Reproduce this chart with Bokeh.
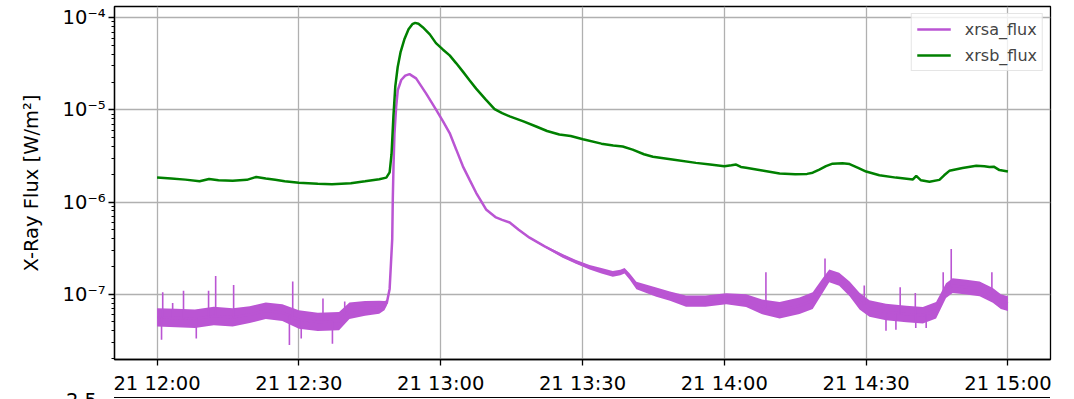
import numpy as np
import pandas as pd
from bokeh.plotting import figure
from bokeh.models import FixedTicker, DatetimeTickFormatter, Range1d, Div
from bokeh.layouts import column
from bokeh.embed import file_html
from bokeh.resources import INLINE

# GOES XRS one-minute readings, minutes after 12:00 UT
DAY_START = pd.Timestamp("2024-05-21 12:00")

xrsb_minutes = [0, 3, 6, 9, 11, 13, 16, 19, 21, 23, 25, 27, 30, 34, 37, 41, 44, 47,
                48.5, 49.2, 49.6, 50.0, 50.4, 50.9, 51.5, 52.3, 53.2, 54.0, 54.6, 55.3,
                56.2, 57.7, 59.0, 60.5, 61.9, 63.3, 64.7, 66.1, 67.5, 69.5, 71.4, 73.0,
                74.6, 77.5, 80.2, 82.5, 85.1, 87.5, 90.1, 94.0, 96.5, 98.5, 100.6, 103.0,
                104.9, 109.0, 114.0, 117.0, 120.0, 121.5, 122.5, 123.5, 124.6, 128.0,
                131.7, 135.0, 137.5, 138.7, 140.1, 141.5, 142.9, 145.0, 146.5, 148.3,
                150.0, 152.8, 156.3, 159.9, 160.6, 161.6, 163.4, 165.5, 166.5, 167.6,
                170.4, 173.3, 175.0, 176.1, 177.0, 178.2, 180.0]
xrsb_flux = [1.84e-6, 1.80e-6, 1.75e-6, 1.68e-6, 1.78e-6, 1.72e-6, 1.70e-6, 1.74e-6,
             1.87e-6, 1.80e-6, 1.74e-6, 1.68e-6, 1.62e-6, 1.58e-6, 1.56e-6, 1.60e-6,
             1.68e-6, 1.77e-6, 1.84e-6, 2.10e-6, 3.30e-6, 8.5e-6, 1.8e-5, 2.9e-5,
             4.2e-5, 5.8e-5, 7.5e-5, 8.5e-5, 8.8e-5, 8.6e-5, 7.9e-5, 6.6e-5, 5.3e-5,
             4.5e-5, 3.9e-5, 3.2e-5, 2.6e-5, 2.1e-5, 1.7e-5, 1.3e-5, 1.02e-5, 9.2e-6,
             8.5e-6, 7.5e-6, 6.6e-6, 5.9e-6, 5.4e-6, 5.2e-6, 4.8e-6, 4.3e-6, 4.1e-6,
             4.0e-6, 3.7e-6, 3.3e-6, 3.1e-6, 2.9e-6, 2.66e-6, 2.55e-6, 2.44e-6, 2.50e-6,
             2.55e-6, 2.40e-6, 2.35e-6, 2.20e-6, 2.04e-6, 2.00e-6, 2.02e-6, 2.08e-6,
             2.25e-6, 2.45e-6, 2.61e-6, 2.63e-6, 2.58e-6, 2.35e-6, 2.14e-6, 1.95e-6,
             1.84e-6, 1.76e-6, 1.92e-6, 1.72e-6, 1.66e-6, 1.74e-6, 1.95e-6, 2.18e-6,
             2.34e-6, 2.48e-6, 2.45e-6, 2.40e-6, 2.42e-6, 2.22e-6, 2.14e-6]

xrsa_minutes = [0, 4, 8, 12, 16, 19.6, 23, 26.5, 30, 34, 38.5, 40.7, 44, 47, 48.1, 48.6,
                49.2, 49.75, 49.87, 50.02, 50.23, 50.59, 50.93, 51.65, 52.5, 53.4, 54.8,
                56.9, 59.05, 60.5, 61.9, 63.3, 64.7, 66.1, 67.5, 69.6, 71.7, 73.0, 74.6,
                76.5, 78.8, 82.0, 85.8, 88.5, 91.5, 94.0, 96.4, 98.0, 98.9, 100.0, 101.4,
                105.6, 108.5, 111.9, 116.0, 120.4, 124.6, 128.0, 131.7, 135.9, 138.7,
                140.8, 142.2, 144.3, 146.5, 148.6, 150.7, 154.2, 158.5, 162.0, 164.8,
                166.9, 168.3, 171.2, 174.0, 176.8, 178.5, 180.0]
xrsa_flux = [5.6e-8, 5.5e-8, 5.4e-8, 5.8e-8, 5.6e-8, 6.0e-8, 6.6e-8, 6.3e-8, 5.3e-8,
             5.0e-8, 5.1e-8, 6.6e-8, 7.0e-8, 7.2e-8, 7.5e-8, 8.0e-8, 1.14e-7, 3.95e-7,
             1.07e-6, 2.44e-6, 5.6e-6, 1.09e-5, 1.64e-5, 2.11e-5, 2.35e-5, 2.44e-5,
             2.20e-5, 1.51e-5, 1.0e-5, 7.5e-6, 5.6e-6, 3.7e-6, 2.44e-6, 1.75e-6, 1.26e-6,
             8.3e-7, 6.8e-7, 6.4e-7, 6.0e-7, 5.0e-7, 4.1e-7, 3.3e-7, 2.6e-7, 2.25e-7,
             1.96e-7, 1.8e-7, 1.66e-7, 1.72e-7, 1.80e-7, 1.55e-7, 1.24e-7, 1.05e-7,
             9.5e-8, 8.4e-8, 8.4e-8, 8.9e-8, 8.5e-8, 7.3e-8, 6.7e-8, 7.5e-8, 8.5e-8,
             1.24e-7, 1.58e-7, 1.45e-7, 1.14e-7, 8.4e-8, 7.0e-8, 6.4e-8, 6.1e-8, 5.9e-8,
             6.7e-8, 1.09e-7, 1.24e-7, 1.19e-7, 1.14e-7, 9.7e-8, 8.3e-8, 7.9e-8]
# half-width of the short-channel noise band, in decades
xrsa_noise = [0.10, 0.10, 0.10, 0.10, 0.10, 0.09, 0.09, 0.09, 0.10, 0.10, 0.10, 0.09,
              0.08, 0.07, 0.05, 0.03, 0.01, 0.005, 0.005, 0.005, 0.005, 0.005, 0.005,
              0.005, 0.005, 0.005, 0.005, 0.005, 0.005, 0.005, 0.005, 0.005, 0.005,
              0.005, 0.005, 0.005, 0.005, 0.005, 0.005, 0.007, 0.008, 0.01, 0.02, 0.02,
              0.025, 0.03, 0.03, 0.03, 0.03, 0.035, 0.04, 0.05, 0.05, 0.06, 0.06, 0.06,
              0.07, 0.08, 0.09, 0.09, 0.09, 0.08, 0.07, 0.07, 0.08, 0.09, 0.09, 0.09,
              0.09, 0.09, 0.09, 0.08, 0.08, 0.08, 0.08, 0.08, 0.08, 0.08]

# isolated single-sample excursions of the short channel
spike_minutes = [1.2, 3.3, 5.6, 10.9, 12.4, 16.2, 28.7, 35.1, 39.7,
                 128.8, 141.3, 149.6, 157.2, 160.4, 166.3, 168.0, 176.6]
spike_flux = [1.05e-7, 8.0e-8, 1.09e-7, 1.09e-7, 1.57e-7, 1.26e-7, 1.37e-7, 9.0e-8, 8.3e-8,
              1.73e-7, 2.44e-7, 1.24e-7, 1.19e-7, 1.03e-7, 1.73e-7, 3.1e-7, 1.73e-7]
dip_minutes = [0.95, 8.3, 28.0, 30.5, 37.1, 154.2, 156.3, 160.5, 162.7]
dip_flux = [3.2e-8, 3.3e-8, 2.8e-8, 3.3e-8, 2.9e-8, 4.0e-8, 4.1e-8, 4.3e-8, 4.3e-8]

tick_minutes = [0, 30, 60, 90, 120, 150, 180]
y_ticks = [1e-7, 1e-6, 1e-5, 1e-4]
y_tick_labels = ["10\u207b\u2077", "10\u207b\u2076", "10\u207b\u2075", "10\u207b\u2074"]
next_panel_top_tick = "2.5"

XRSA_COLOR = "#BA55D3"
XRSB_COLOR = "#008000"
FONT = "DejaVu Sans"


def to_ms(minutes):
    base = DAY_START.value / 1e6
    return base + np.asarray(minutes, dtype=float) * 60000.0


ta = to_ms(xrsa_minutes)
fa = np.asarray(xrsa_flux)
wa = np.asarray(xrsa_noise)
tb = to_ms(xrsb_minutes)
fb = np.asarray(xrsb_flux)

log_a = np.log10(fa)
spike_base = 10 ** np.interp(spike_minutes, xrsa_minutes, log_a)
dip_base = 10 ** np.interp(dip_minutes, xrsa_minutes, log_a)

p = figure(width=1074, height=397, output_backend="svg", toolbar_location=None,
           x_axis_type="datetime", y_axis_type="log",
           x_range=Range1d(float(to_ms(-9.0)), float(to_ms(189.0))),
           y_range=Range1d(1.954e-8, 1.324e-4),
           min_border_left=114, min_border_right=24, min_border_top=6,
           min_border_bottom=36, margin=0)

p.background_fill_color = "white"
p.border_fill_color = "white"
p.outline_line_color = "black"
p.outline_line_width = 1.3

# short channel: noise band, trace, single-sample excursions
p.varea(x=ta, y1=fa * 10 ** (-wa), y2=fa * 10 ** wa, color=XRSA_COLOR)
p.line(ta, fa, line_color=XRSA_COLOR, line_width=2.5, legend_label="xrsa_flux")
p.segment(x0=to_ms(spike_minutes), y0=spike_base, x1=to_ms(spike_minutes), y1=spike_flux,
          line_color=XRSA_COLOR, line_width=1.6)
p.segment(x0=to_ms(dip_minutes), y0=dip_base, x1=to_ms(dip_minutes), y1=dip_flux,
          line_color=XRSA_COLOR, line_width=1.6)

# long channel
p.line(tb, fb, line_color=XRSB_COLOR, line_width=2.5, legend_label="xrsb_flux")

# axes
p.xaxis.ticker = FixedTicker(ticks=list(to_ms(tick_minutes)))
fmt = "%d %H:%M"
p.xaxis.formatter = DatetimeTickFormatter(minsec=fmt, minutes=fmt, hourmin=fmt,
                                          hours=fmt, days=fmt)
p.yaxis.ticker = FixedTicker(
    ticks=y_ticks,
    minor_ticks=[k * 10.0 ** e for e in range(-8, -3) for k in range(2, 10)])
p.yaxis.major_label_overrides = dict(zip(y_ticks, y_tick_labels))
p.yaxis.axis_label = "X-Ray Flux [W/m\u00b2]"

for ax in (p.xaxis[0], p.yaxis[0]):
    ax.axis_line_color = "black"
    ax.axis_line_width = 1.3
    ax.major_tick_line_color = "black"
    ax.major_tick_line_width = 1.3
    ax.major_tick_out = 6
    ax.major_tick_in = 0
    ax.minor_tick_line_color = "black"
    ax.minor_tick_line_width = 1.0
    ax.minor_tick_out = 3
    ax.minor_tick_in = 0
    ax.major_label_text_font = FONT
    ax.major_label_text_font_size = "19.5px"
    ax.major_label_text_color = "black"
p.xaxis.major_label_standoff = 6
p.yaxis.major_label_standoff = 3
p.yaxis.axis_label_text_font = FONT
p.yaxis.axis_label_text_font_size = "19.5px"
p.yaxis.axis_label_text_font_style = "normal"
p.yaxis.axis_label_text_color = "black"
p.yaxis.axis_label_standoff = 17

p.xgrid.grid_line_color = "#b0b0b0"
p.ygrid.grid_line_color = "#b0b0b0"
p.xgrid.grid_line_width = 1.3
p.ygrid.grid_line_width = 1.3

lg = p.legend[0]
lg.location = "top_right"
lg.margin = 7
lg.padding = 5
lg.spacing = 6
lg.glyph_width = 34
lg.glyph_height = 20
lg.label_height = 20
lg.label_standoff = 14
lg.label_text_font = FONT
lg.label_text_font_size = "16px"
lg.border_line_color = "#cccccc"
lg.border_line_width = 1
lg.background_fill_alpha = 0.8

# top edge and first tick label of the panel below
strip = Div(
    width=1074, height=2, margin=0, styles={"overflow": "visible"},
    text=(
        '<div style="position:absolute;left:114px;top:0;width:936px;height:0;'
        'border-top:1.3px solid #000;"></div>'
        '<div style="position:absolute;left:0;top:-6px;width:97px;text-align:right;'
        "font-family:'DejaVu Sans';font-size:19.5px;line-height:19.5px;color:#000;\">"
        + next_panel_top_tick + "</div>"
    ),
)

layout = column(p, strip, spacing=0, margin=0)

open("out.html", "w").write(file_html(layout, INLINE))
